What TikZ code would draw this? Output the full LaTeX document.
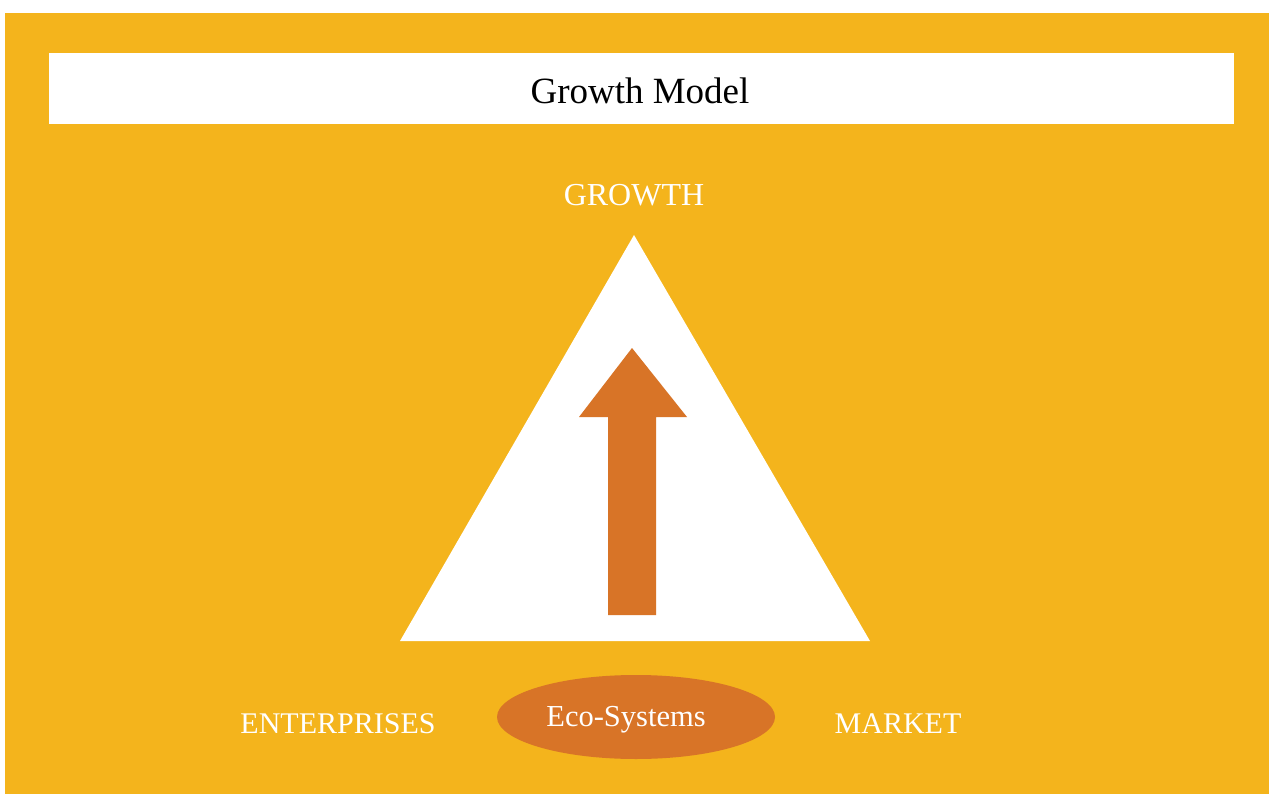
\documentclass[tikz,border=0pt]{standalone}
\usepackage{fontspec}
\setmainfont{Liberation Serif}
\usetikzlibrary{shapes.geometric}
\definecolor{bgorange}{HTML}{F4B41C}
\definecolor{darkorange}{HTML}{D87427}
\tikzset{
  lbl/.style={text=white, inner sep=0pt, anchor=center},
}
\begin{document}
\begin{tikzpicture}[x=1pt,y=-1pt]
\useasboundingbox (0,0) rectangle (1269,794);
\fill[bgorange] (5,13) rectangle (1269,794);
\fill[white] (49,53) rectangle (1234,124);
\node[inner sep=0pt] (title) at (640,91) {\fontsize{37}{40}\selectfont Growth Model};
\node[lbl] (growth) at (634,195) {\fontsize{32}{36}\selectfont GROWTH};
\fill[white] (634,235) -- (870,641) -- (400,641) -- cycle;
\fill[darkorange] (632,348) -- (687,417) -- (656,417) -- (656,615) -- (608,615) -- (608,417) -- (579,417) -- cycle;
\node[ellipse, fill=darkorange, minimum width=278, minimum height=84, inner sep=0pt] (eco) at (636,717) {};
\node[lbl] (ecotext) at (626,720) {\fontsize{30.5}{34}\selectfont Eco-Systems};
\node[lbl] (ent) at (338,724) {\fontsize{30}{34}\selectfont ENTERPRISES};
\node[lbl] (mkt) at (898,724) {\fontsize{30}{34}\selectfont MARKET};
\end{tikzpicture}
\end{document}
